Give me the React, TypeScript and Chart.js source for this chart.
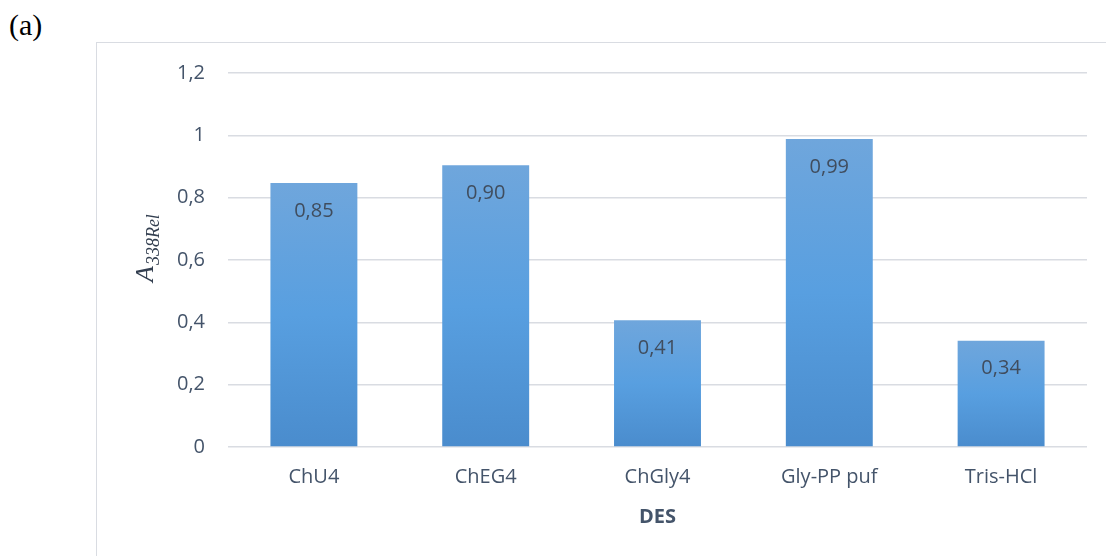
import React, { useEffect, useRef } from "react";
import { Chart, registerables } from "chart.js";

Chart.register(...registerables);

const categories: string[] = ["ChU4", "ChEG4", "ChGly4", "Gly-PP puf", "Tris-HCl"];
const values: number[] = [0.847, 0.904, 0.407, 0.988, 0.341];
const yTicks: number[] = [0, 0.2, 0.4, 0.6, 0.8, 1, 1.2];
const xTitle = "DES";
const yTitleMain = "A";
const yTitleSub = "338Rel";
const panelLabel = "(a)";

const FONT = "'Open Sans', 'Noto Sans', sans-serif";
const TEXT = "#44546a";
const GRID = "#d9dce2";

const fmt = (v: number) => v.toFixed(2).replace(".", ",");
const fmtTick = (v: number) => String(Math.round(v * 10) / 10).replace(".", ",");

export default function App() {
  const ref = useRef<HTMLCanvasElement | null>(null);

  useEffect(() => {
    const canvas = ref.current;
    if (!canvas) return;

    const labelsPlugin = {
      id: "extras",
      afterDatasetsDraw(chart: any) {
        const ctx = chart.ctx;
        const meta = chart.getDatasetMeta(0);
        ctx.save();
        ctx.font = `20px ${FONT}`;
        ctx.fillStyle = "#404d5e";
        ctx.textAlign = "center";
        ctx.textBaseline = "middle";
        meta.data.forEach((bar: any, i: number) => {
          ctx.fillText(fmt(values[i]), bar.x, bar.y + 28);
        });
        ctx.restore();

        // y-axis title, rotated
        ctx.save();
        ctx.translate(153, 282);
        ctx.rotate(-Math.PI / 2);
        ctx.fillStyle = "#333f50";
        ctx.textAlign = "left";
        ctx.textBaseline = "alphabetic";
        ctx.font = `italic 26px 'Liberation Serif', 'DejaVu Serif', serif`;
        ctx.fillText(yTitleMain, 0, 0);
        const w = ctx.measureText(yTitleMain).width;
        ctx.font = `italic 18px 'Liberation Serif', 'DejaVu Serif', serif`;
        ctx.fillText(yTitleSub, w + 1, 6);
        ctx.restore();
      },
    };

    const chart = new Chart(canvas, {
      type: "bar",
      data: {
        labels: categories,
        datasets: [
          {
            data: values,
            barPercentage: 0.506,
            categoryPercentage: 1,
            borderWidth: 0,
            backgroundColor: (c: any) => {
              const ch = c.chart;
              if (!ch.chartArea || !ch.scales.y || c.dataIndex == null) return "#5b9bd5";
              const ys = ch.scales.y;
              const top = ys.getPixelForValue(values[c.dataIndex]);
              const bottom = ys.getPixelForValue(0);
              if (!isFinite(top) || !isFinite(bottom) || top === bottom) return "#5b9bd5";
              const g = ch.ctx.createLinearGradient(0, top, 0, bottom);
              g.addColorStop(0, "#6fa6dc");
              g.addColorStop(0.5, "#589fe0");
              g.addColorStop(1, "#4a8ccd");
              return g;
            },
          },
        ],
      },
      options: {
        responsive: false,
        animation: false,
        devicePixelRatio: 1,
        layout: { padding: { left: 0, right: 19, top: 73, bottom: 0 } },
        plugins: {
          legend: { display: false },
          tooltip: { enabled: false },
          title: { display: false },
        },
        scales: {
          x: {
            grid: { display: false, drawTicks: false },
            border: { display: false },
            ticks: {
              color: TEXT,
              font: { family: FONT, size: 20 },
              padding: 18,
            },
            title: {
              display: true,
              text: xTitle,
              color: TEXT,
              font: { family: FONT, size: 20, weight: "bold" },
              padding: { top: 15, bottom: 27 },
            },
            afterFit: (s: any) => {
              s.height = 109;
            },
          },
          y: {
            min: 0,
            max: 1.2,
            afterBuildTicks: (s: any) => {
              s.ticks = yTicks.map((v) => ({ value: v }));
            },
            grid: { color: GRID, lineWidth: 1.5, drawTicks: false },
            border: { display: false },
            ticks: {
              color: TEXT,
              font: { family: FONT, size: 20 },
              padding: 23,
              callback: (v: any) => fmtTick(Number(v)),
            },
            afterFit: (s: any) => {
              s.width = 228;
            },
          },
        },
      },
      plugins: [labelsPlugin],
    } as any);

    return () => chart.destroy();
  }, []);

  return (
    <div
      style={{
        position: "absolute",
        left: 0,
        top: 0,
        width: 1106,
        height: 556,
        overflow: "hidden",
        background: "#ffffff",
      }}
    >
      <div
        style={{
          position: "absolute",
          left: 9,
          top: 8,
          fontFamily: "'Liberation Serif', 'Times New Roman', serif",
          fontSize: 30,
          color: "#000",
          lineHeight: "34px",
        }}
      >
        {panelLabel}
      </div>
      <div
        style={{
          position: "absolute",
          left: 96,
          top: 42,
          width: 1100,
          height: 600,
          border: "1.5px solid #d9dce2",
          boxSizing: "border-box",
        }}
      />
      <canvas
        ref={ref}
        width={1106}
        height={556}
        style={{ position: "absolute", left: 0, top: 0, width: 1106, height: 556 }}
      />
    </div>
  );
}
